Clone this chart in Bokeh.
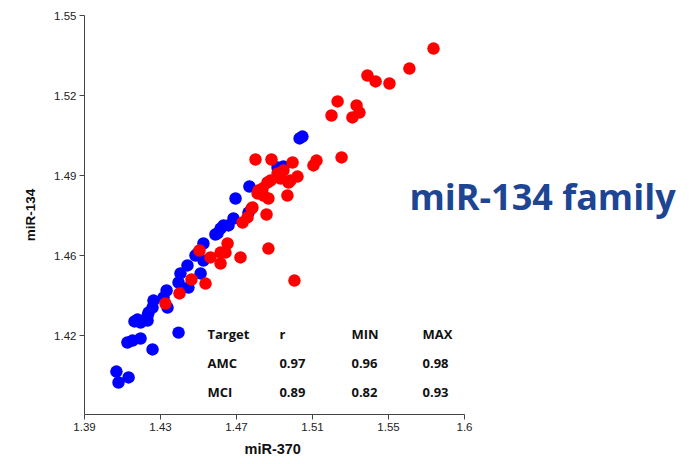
from bokeh.plotting import figure
from bokeh.models import FixedTicker, Label, ColumnDataSource, Range1d, Title
from bokeh.core.properties import value
from bokeh.embed import file_html
from bokeh.resources import INLINE

# ---- data ----
amc_x = [1.5047, 1.5032, 1.4916, 1.4947, 1.4768, 1.4695, 1.4763, 1.4684, 1.4658, 1.4616,
         1.4632, 1.4600, 1.4589, 1.4526, 1.4495, 1.4484, 1.4526, 1.4442, 1.4511, 1.4405,
         1.4395, 1.4447, 1.4332, 1.4316, 1.4263, 1.4258, 1.4337, 1.4237, 1.4232, 1.4179,
         1.4163, 1.4232, 1.4195, 1.4195, 1.4153, 1.4126, 1.4395, 1.4258, 1.4068, 1.4079,
         1.4132]
amc_y = [1.5046, 1.5039, 1.4930, 1.4934, 1.4859, 1.4814, 1.4761, 1.4739, 1.4713, 1.4701,
         1.4713, 1.4683, 1.4679, 1.4645, 1.4608, 1.4600, 1.4581, 1.4563, 1.4533, 1.4533,
         1.4499, 1.4480, 1.4469, 1.4443, 1.4431, 1.4405, 1.4405, 1.4386, 1.4375, 1.4360,
         1.4353, 1.4356, 1.4349, 1.4289, 1.4281, 1.4274, 1.4311, 1.4248, 1.4165, 1.4124,
         1.4143]

mci_x = [1.5737, 1.5610, 1.5389, 1.5432, 1.5505, 1.5232, 1.5332, 1.5347, 1.5310, 1.5200,
         1.5121, 1.5105, 1.5253, 1.4800, 1.4884, 1.4995, 1.5021, 1.4968, 1.4858, 1.4779,
         1.4732, 1.4758, 1.4868, 1.4721, 1.5005, 1.4916, 1.4947, 1.4974, 1.4863, 1.4879,
         1.4811, 1.4842, 1.4868, 1.4816, 1.4784, 1.4837, 1.4932, 1.4984, 1.4653, 1.4616,
         1.4642, 1.4563, 1.4616, 1.4505, 1.4463, 1.4537, 1.4400, 1.4326]
mci_y = [1.5376, 1.5301, 1.5275, 1.5253, 1.5245, 1.5178, 1.5163, 1.5136, 1.5118, 1.5125,
         1.4956, 1.4938, 1.4968, 1.4960, 1.4960, 1.4949, 1.4896, 1.4825, 1.4754, 1.4776,
         1.4724, 1.4743, 1.4626, 1.4593, 1.4506, 1.4908, 1.4919, 1.4874, 1.4874, 1.4881,
         1.4833, 1.4825, 1.4814, 1.4844, 1.4780, 1.4851, 1.4889, 1.4881, 1.4645, 1.4611,
         1.4611, 1.4593, 1.4570, 1.4619, 1.4510, 1.4495, 1.4458, 1.4420]

x_ticks = [1.39, 1.43, 1.47, 1.51, 1.55, 1.59]
x_tick_labels = ["1.39", "1.43", "1.47", "1.51", "1.55", "1.6"]
y_ticks = [1.43, 1.46, 1.49, 1.52, 1.55]
y_tick_labels = ["1.42", "1.46", "1.49", "1.52", "1.55"]

table_header = ["Target", "r", "MIN", "MAX"]
table_groups = ["AMC", "MCI"]
table_r = [0.97, 0.89]
table_min = [0.96, 0.82]
table_max = [0.98, 0.93]

title_text = "miR-134 family"
x_label = "miR-370"
y_label = "miR-134"

# ---- layout ----
col_x = [1.4547, 1.4926, 1.5305, 1.5679]
row_y = [1.4307, 1.4196, 1.4088]
axis_end = 1.59
x_view_end = 1.39 + (690 - 84) * 0.04 / 76   # frame extends to the right edge

p = figure(width=690, height=464, output_backend="svg", toolbar_location=None,
           x_range=Range1d(1.39, x_view_end), y_range=Range1d(1.4004, 1.55),
           min_border_left=84, min_border_top=15, min_border_right=0, min_border_bottom=50)
p.outline_line_color = None
p.xgrid.visible = False
p.ygrid.visible = False
p.background_fill_color = "white"

p.scatter(amc_x, amc_y, size=12.5, fill_color="#0000ff", line_color=None)
p.scatter(mci_x, mci_y, size=12.5, fill_color="#ff0000", line_color=None)

for ax, ticks, labels in ((p.xaxis[0], x_ticks, x_tick_labels),
                          (p.yaxis[0], y_ticks, y_tick_labels)):
    ax.ticker = FixedTicker(ticks=ticks)
    ax.major_label_overrides = {t: l for t, l in zip(ticks, labels)}
    ax.minor_tick_line_color = None
    ax.major_tick_in = 0
    ax.major_tick_out = 5
    ax.axis_line_color = "#444444"
    ax.major_tick_line_color = "#444444"
    ax.major_label_text_font = "Liberation Sans"
    ax.major_label_text_font_size = "11.5px"
    ax.major_label_text_color = "#222222"
    ax.major_label_standoff = 3
p.xaxis[0].bounds = (x_ticks[0], axis_end)

yax = p.yaxis[0]
yax.axis_label = y_label
yax.axis_label_text_font = "Liberation Sans"
yax.axis_label_text_font_style = "bold"
yax.axis_label_text_font_size = "13.5px"
yax.axis_label_text_color = "#111111"
yax.axis_label_standoff = 13

# x-axis label centred under the drawn axis span
p.add_layout(Title(text=x_label, align="left", offset=160, standoff=11,
                   text_font="Liberation Sans", text_font_style="bold",
                   text_font_size="14.5px", text_color="#111111"), "below")

# table
tx, ty, tt = [], [], []
for i, h in enumerate(table_header):
    tx.append(col_x[i]); ty.append(row_y[0]); tt.append(h)
for j, g in enumerate(table_groups):
    vals = [g, f"{table_r[j]:.2f}", f"{table_min[j]:.2f}", f"{table_max[j]:.2f}"]
    for i, v in enumerate(vals):
        tx.append(col_x[i]); ty.append(row_y[j + 1]); tt.append(v)
src = ColumnDataSource(dict(x=tx, y=ty, t=tt))
p.text(x="x", y="y", text="t", source=src, text_font=value("Open Sans"),
       text_font_style="bold", text_font_size="13px", text_color="#111111",
       text_align="left", text_baseline="alphabetic")

p.add_layout(Label(x=1.5610, y=1.4821, text=title_text, text_font="Open Sans",
                   text_font_style="bold", text_font_size="36px", text_color="#1d4593",
                   text_align="left", text_baseline="alphabetic"))

open("out.html", "w").write(file_html(p, INLINE))
